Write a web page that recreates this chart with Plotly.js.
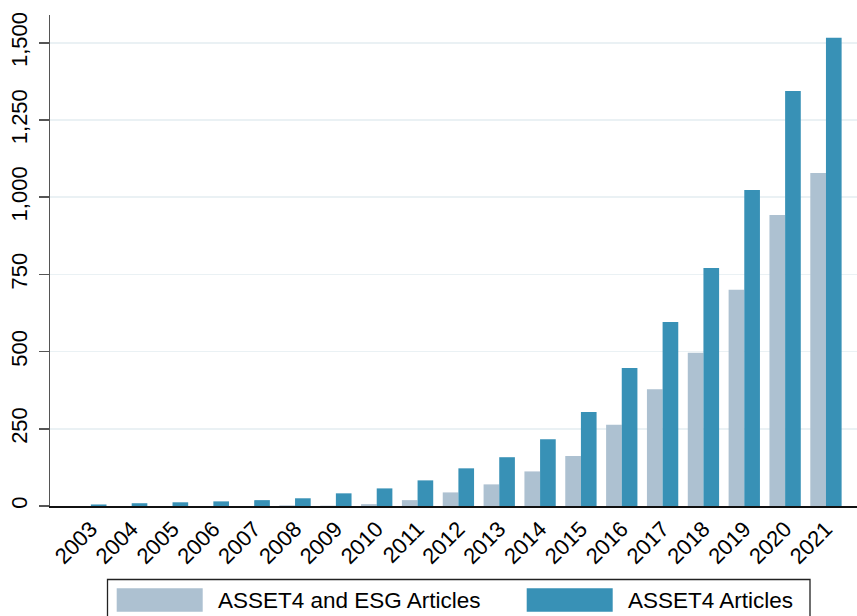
<!DOCTYPE html>
<html>
<head>
<meta charset="utf-8">
<script src="https://cdn.plot.ly/plotly-3.0.1.min.js"></script>
<style>html,body{margin:0;padding:0;background:#fff;}#chart{width:857px;height:616px;}</style>
</head>
<body>
<div id="chart"></div>
<script>
// ---- data ----
const years = ["2003","2004","2005","2006","2007","2008","2009","2010","2011","2012","2013","2014","2015","2016","2017","2018","2019","2020","2021"];
const esgArticles = [0, 0, 0, 0, 0, 2, 1, 6, 19, 44, 70, 112, 162, 263, 378, 496, 700, 942, 1078];
const asset4Articles = [5, 9, 12, 15, 19, 25, 41, 57, 83, 122, 158, 216, 304, 447, 596, 771, 1023, 1344, 1516];
const seriesNames = ["ASSET4 and ESG Articles", "ASSET4 Articles"];
const yTickVals = [0, 250, 500, 750, 1000, 1250, 1500];

// ---- styling ----
const colGrey = "#adc1d1";
const colBlue = "#3891b6";
const fontFam = "Liberation Sans, Arial, sans-serif";

const W = 857, H = 616;
const M = {l: 50, r: 0, t: 15, b: 110};
const pw = W - M.l - M.r, ph = H - M.t - M.b;
function px(x) { return (x - M.l) / pw; }
function py(y) { return (H - M.b - y) / ph; }

const traces = [
  {type: "bar", x: years, y: esgArticles, name: seriesNames[0], marker: {color: colGrey, line: {width: 0}}, showlegend: false},
  {type: "bar", x: years, y: asset4Articles, name: seriesNames[1], marker: {color: colBlue, line: {width: 0}}, showlegend: false}
];

const swatches = [
  {x0: 116.7, x1: 202.7, tx: 215.5, color: colGrey, name: seriesNames[0]},
  {x0: 526.7, x1: 612.7, tx: 625.5, color: colBlue, name: seriesNames[1]}
];

const shapes = [
  {type: "rect", xref: "paper", yref: "paper", x0: px(107.5), x1: px(810), y0: py(579.5), y1: py(624),
   line: {color: "#222", width: 1.3}, fillcolor: "rgba(0,0,0,0)"}
];
const annotations = [];
swatches.forEach(s => {
  shapes.push({type: "rect", xref: "paper", yref: "paper", x0: px(s.x0), x1: px(s.x1), y0: py(588.3), y1: py(611.7),
    line: {width: 0}, fillcolor: s.color});
  annotations.push({xref: "paper", yref: "paper", x: px(s.tx), y: py(600), xanchor: "left", yanchor: "middle",
    text: s.name, showarrow: false, font: {family: fontFam, size: 22.5, color: "#000"}});
});

const layout = {
  width: W, height: H,
  margin: M,
  paper_bgcolor: "#fff", plot_bgcolor: "#fff",
  barmode: "group", bargap: 0.233, bargroupgap: 0,
  font: {family: fontFam, size: 22, color: "#000"},
  showlegend: false,
  xaxis: {
    type: "category", range: [-1.0, 18.76],
    showgrid: false, zeroline: false,
    showline: true, linecolor: "#111", linewidth: 1.5,
    ticks: "", tickangle: -45,
    tickfont: {family: fontFam, size: 22, color: "#000"}
  },
  yaxis: {
    range: [0, 1590],
    tickvals: yTickVals, tickformat: ",d",
    showgrid: true, gridcolor: "#eaf1f4", gridwidth: 1.5,
    zeroline: false,
    showline: true, linecolor: "#555", linewidth: 1.5,
    ticks: "outside", ticklen: 10, tickwidth: 1.5, tickcolor: "#555",
    tickangle: -90, ticklabelstandoff: 3,
    tickfont: {family: fontFam, size: 22, color: "#000"}
  },
  shapes: shapes,
  annotations: annotations
};

Plotly.newPlot("chart", traces, layout, {displayModeBar: false, staticPlot: true});
</script>
</body>
</html>
